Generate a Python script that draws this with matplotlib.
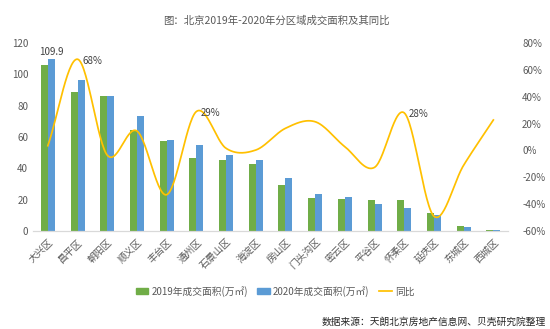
import numpy as np
import matplotlib
matplotlib.use("Agg")
from matplotlib import pyplot as plt
from matplotlib.patches import Patch
from matplotlib.lines import Line2D

plt.rcParams['font.family'] = ['Noto Sans CJK SC', 'DejaVu Sans']

districts = ['大兴区', '昌平区', '朝阳区', '顺义区', '丰台区', '通州区', '石景山区', '海淀区',
             '房山区', '门头沟区', '密云区', '平谷区', '怀柔区', '延庆区', '东城区', '西城区']
area_2019 = [106.0, 88.7, 86.4, 64.3, 57.4, 46.8, 45.5, 43.0,
             29.3, 21.1, 20.2, 19.8, 19.8, 11.3, 3.0, 0.9]
area_2020 = [109.9, 96.6, 86.0, 73.6, 58.3, 55.1, 48.7, 45.5,
             34.0, 23.8, 21.7, 17.5, 14.7, 10.2, 2.6, 0.5]
yoy = [3.5, 68, -3.5, 14.5, -33, 29, 1.6, 0.3,
       16.5, 21.4, 2.8, -12.6, 28, -49, -11, 22.7]

green = '#70AD47'
blue = '#5B9BD5'
gold = '#FFC000'
grey = '#595959'


def smooth(xs, ys, n=30):
    # catmull-rom curve through the points, like excel's smoothed line
    xs = np.asarray(xs, float)
    ys = np.asarray(ys, float)
    px = np.concatenate([[2 * xs[0] - xs[1]], xs, [2 * xs[-1] - xs[-2]]])
    py = np.concatenate([[2 * ys[0] - ys[1]], ys, [2 * ys[-1] - ys[-2]]])
    ox, oy = [], []
    t = np.linspace(0, 1, n)
    for i in range(1, len(px) - 2):
        for p, out in ((px, ox), (py, oy)):
            p0, p1, p2, p3 = p[i - 1], p[i], p[i + 1], p[i + 2]
            out.extend(0.5 * (2 * p1 + (-p0 + p2) * t
                              + (2 * p0 - 5 * p1 + 4 * p2 - p3) * t ** 2
                              + (-p0 + 3 * p1 - 3 * p2 + p3) * t ** 3))
    return np.array(ox), np.array(oy)


fig = plt.figure(figsize=(5.5, 3.29), dpi=100)
ax = fig.add_axes([0.06, 0.298, 0.864, 0.571])
ax2 = ax.twinx()

x = np.arange(len(districts))
w = 0.235
ax.bar(x - w / 2, area_2019, w, color=green, zorder=2)
ax.bar(x + w / 2, area_2020, w, color=blue, zorder=2)

ax.set_xlim(-0.5, len(districts) - 0.5)
ax.set_ylim(0, 120)
ax.set_yticks(range(0, 121, 20))
ax.set_xticks(x)
ax.set_xticklabels(districts, rotation=45, ha='right', va='top',
                   rotation_mode='anchor', fontsize=7, color=grey)
ax.tick_params(length=0, labelsize=7, labelcolor=grey)
ax.tick_params(axis='x', pad=4)

sx, sy = smooth(x, yoy)
ax2.plot(sx, sy, color=gold, lw=1.25)
ax2.set_ylim(-60, 80)
ax2.set_yticks(range(-60, 81, 20))
ax2.set_yticklabels([f'{v}%' for v in range(-60, 81, 20)])
ax2.tick_params(length=0, labelsize=7, labelcolor=grey, pad=10)

for a in (ax, ax2):
    for s in ('top', 'left', 'right'):
        a.spines[s].set_visible(False)
    a.spines['bottom'].set_color('#D9D9D9')

ax.text(x[0] + w / 2, area_2020[0] + 1.5, '109.9', ha='center', va='bottom',
        fontsize=7, color='#404040')
for i in (1, 5, 12):
    ax2.text(x[i] + 0.15, yoy[i] - 1, f'{int(yoy[i])}%', ha='left', va='center',
             fontsize=7, color='#404040')

fig.text(0.502, 0.937, '图：北京2019年-2020年分区域成交面积及其同比', ha='center',
         va='center', fontsize=7.5, color=grey)

handles = [Patch(color=green), Patch(color=blue), Line2D([], [], color=gold, lw=1.25)]
labels = ['2019年成交面积(万㎡)', '2020年成交面积(万㎡)', '同比']
fig.legend(handles, labels, loc='center', bbox_to_anchor=(0.5, 0.115), ncol=3,
           frameon=False, fontsize=7, handlelength=1.3, handleheight=0.6,
           columnspacing=1.0, handletextpad=0.3, labelcolor=grey)

fig.text(0.993, 0.022, '数据来源：天朗北京房地产信息网、贝壳研究院整理', ha='right',
         va='center', fontsize=7, color='#262626')

fig.savefig('out.png', dpi=100)
